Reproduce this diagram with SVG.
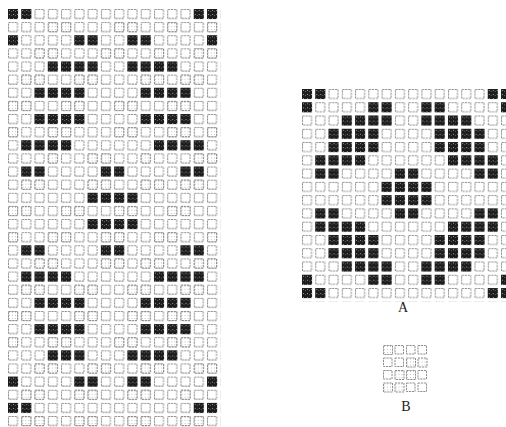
<svg xmlns="http://www.w3.org/2000/svg" xmlns:xlink="http://www.w3.org/1999/xlink" width="506" height="427" viewBox="0 0 506 427">
<style>
.o{fill:#fff;stroke:#8f8f8f;stroke-width:1;stroke-dasharray:2.2 0.8}
.lab{font-family:"Liberation Serif","DejaVu Serif",serif;font-size:14px;fill:#222;text-anchor:middle}
</style>
<defs>
<pattern id="dk" patternUnits="userSpaceOnUse" width="4" height="4">
<rect width="4" height="4" fill="#1c1c1c"/><rect x="1" y="1" width="1" height="1" fill="#9a9a9a"/><rect x="3" y="2" width="1" height="1" fill="#606060"/>
</pattern>
<pattern id="lt" patternUnits="userSpaceOnUse" width="3" height="3">
<rect width="3" height="3" fill="#fff"/><rect x="1" y="1" width="1" height="1" fill="#c4c4c4"/>
</pattern>
<pattern id="gL" patternUnits="userSpaceOnUse" x="8" y="9" width="13.27" height="13.13">
<rect x="0.5" y="0.5" width="9" height="9" class="o"/>
</pattern>
<pattern id="gA" patternUnits="userSpaceOnUse" x="302" y="89" width="13.27" height="13.27">
<rect x="0.5" y="0.5" width="9" height="9" class="o"/>
</pattern>
<rect id="k" width="10" height="10" fill="url(#dk)"/>
<rect id="l" x="0.5" y="0.5" width="9" height="9" fill="url(#lt)" stroke="#8f8f8f" stroke-width="1" stroke-dasharray="2.2 0.8"/>
<g id="p0"><use href="#k" x="0"/><use href="#k" x="13.27"/><use href="#k" x="185.78"/><use href="#k" x="199.05"/></g>
<g id="p1"><use href="#k" x="0"/><use href="#k" x="66.35"/><use href="#k" x="79.62"/><use href="#k" x="119.43"/><use href="#k" x="132.7"/><use href="#k" x="199.05"/></g>
<g id="p2"><use href="#k" x="39.81"/><use href="#k" x="53.08"/><use href="#k" x="66.35"/><use href="#k" x="79.62"/><use href="#k" x="119.43"/><use href="#k" x="132.7"/><use href="#k" x="145.97"/><use href="#k" x="159.24"/></g>
<g id="p2b"><use href="#k" x="39.81"/><use href="#k" x="53.08"/><use href="#k" x="66.35"/><use href="#k" x="119.43"/><use href="#k" x="132.7"/><use href="#k" x="145.97"/><use href="#k" x="159.24"/></g>
<g id="p3"><use href="#k" x="26.54"/><use href="#k" x="39.81"/><use href="#k" x="53.08"/><use href="#k" x="66.35"/><use href="#k" x="132.7"/><use href="#k" x="145.97"/><use href="#k" x="159.24"/><use href="#k" x="172.51"/></g>
<g id="p5"><use href="#k" x="13.27"/><use href="#k" x="26.54"/><use href="#k" x="39.81"/><use href="#k" x="53.08"/><use href="#k" x="145.97"/><use href="#k" x="159.24"/><use href="#k" x="172.51"/><use href="#k" x="185.78"/></g>
<g id="p6"><use href="#k" x="13.27"/><use href="#k" x="26.54"/><use href="#k" x="92.89"/><use href="#k" x="106.16"/><use href="#k" x="172.51"/><use href="#k" x="185.78"/></g>
<g id="p7"><use href="#k" x="79.62"/><use href="#k" x="92.89"/><use href="#k" x="106.16"/><use href="#k" x="119.43"/></g>
</defs>

<g id="grid-left">
<rect x="8" y="9" width="212.32" height="418" fill="url(#gL)"/>
<g id="left-light">
<g transform="translate(8,22.13)"><use href="#l" x="39.81"/><use href="#l" x="53.08"/><use href="#l" x="106.16"/><use href="#l" x="119.43"/><use href="#l" x="159.24"/><use href="#l" x="199.05"/></g>
<g transform="translate(8,48.39)"><use href="#l" x="26.54"/><use href="#l" x="39.81"/><use href="#l" x="92.89"/><use href="#l" x="106.16"/><use href="#l" x="145.97"/><use href="#l" x="185.78"/><use href="#l" x="199.05"/></g>
<g transform="translate(8,74.65)"><use href="#l" x="13.27"/><use href="#l" x="26.54"/><use href="#l" x="66.35"/><use href="#l" x="79.62"/><use href="#l" x="132.7"/><use href="#l" x="145.97"/><use href="#l" x="172.51"/><use href="#l" x="185.78"/></g>
<g transform="translate(8,100.91)"><use href="#l" x="0"/><use href="#l" x="13.27"/><use href="#l" x="53.08"/><use href="#l" x="66.35"/><use href="#l" x="106.16"/><use href="#l" x="119.43"/><use href="#l" x="159.24"/><use href="#l" x="172.51"/></g>
<g transform="translate(8,127.17)"><use href="#l" x="0"/><use href="#l" x="39.81"/><use href="#l" x="53.08"/><use href="#l" x="106.16"/><use href="#l" x="119.43"/><use href="#l" x="159.24"/><use href="#l" x="172.51"/><use href="#l" x="199.05"/></g>
<g transform="translate(8,153.43)"><use href="#l" x="39.81"/><use href="#l" x="79.62"/><use href="#l" x="92.89"/><use href="#l" x="132.7"/><use href="#l" x="185.78"/><use href="#l" x="199.05"/></g>
<g transform="translate(8,179.69)"><use href="#l" x="13.27"/><use href="#l" x="26.54"/><use href="#l" x="79.62"/><use href="#l" x="92.89"/><use href="#l" x="132.7"/><use href="#l" x="145.97"/><use href="#l" x="172.51"/><use href="#l" x="185.78"/></g>
<g transform="translate(8,205.95)"><use href="#l" x="0"/><use href="#l" x="13.27"/><use href="#l" x="53.08"/><use href="#l" x="66.35"/><use href="#l" x="106.16"/><use href="#l" x="119.43"/><use href="#l" x="159.24"/><use href="#l" x="172.51"/></g>
<g transform="translate(8,232.21)"><use href="#l" x="0"/><use href="#l" x="39.81"/><use href="#l" x="53.08"/><use href="#l" x="92.89"/><use href="#l" x="106.16"/><use href="#l" x="145.97"/><use href="#l" x="159.24"/><use href="#l" x="199.05"/></g>
<g transform="translate(8,258.47)"><use href="#l" x="26.54"/><use href="#l" x="39.81"/><use href="#l" x="92.89"/><use href="#l" x="106.16"/><use href="#l" x="132.7"/><use href="#l" x="145.97"/><use href="#l" x="185.78"/><use href="#l" x="199.05"/></g>
<g transform="translate(8,284.73)"><use href="#l" x="13.27"/><use href="#l" x="26.54"/><use href="#l" x="66.35"/><use href="#l" x="79.62"/><use href="#l" x="119.43"/><use href="#l" x="132.7"/><use href="#l" x="172.51"/><use href="#l" x="185.78"/></g>
<g transform="translate(8,310.99)"><use href="#l" x="0"/><use href="#l" x="13.27"/><use href="#l" x="66.35"/><use href="#l" x="79.62"/><use href="#l" x="119.43"/><use href="#l" x="132.7"/><use href="#l" x="159.24"/><use href="#l" x="172.51"/></g>
<g transform="translate(8,337.25)"><use href="#l" x="0"/><use href="#l" x="39.81"/><use href="#l" x="53.08"/><use href="#l" x="106.16"/><use href="#l" x="119.43"/><use href="#l" x="159.24"/><use href="#l" x="172.51"/></g>
<g transform="translate(8,363.51)"><use href="#l" x="26.54"/><use href="#l" x="39.81"/><use href="#l" x="79.62"/><use href="#l" x="92.89"/><use href="#l" x="132.7"/><use href="#l" x="145.97"/><use href="#l" x="185.78"/><use href="#l" x="199.05"/></g>
<g transform="translate(8,389.77)"><use href="#l" x="13.27"/><use href="#l" x="26.54"/><use href="#l" x="66.35"/><use href="#l" x="79.62"/><use href="#l" x="119.43"/><use href="#l" x="132.7"/><use href="#l" x="172.51"/></g>
<g transform="translate(8,416.03)"><use href="#l" x="13.27"/><use href="#l" x="26.54"/><use href="#l" x="66.35"/><use href="#l" x="79.62"/><use href="#l" x="119.43"/><use href="#l" x="132.7"/><use href="#l" x="172.51"/><use href="#l" x="185.78"/></g>
</g>
<g id="left-dark">
<use href="#p0" x="8" y="9"/>
<use href="#p1" x="8" y="35.26"/>
<use href="#p2" x="8" y="61.52"/>
<use href="#p3" x="8" y="87.78"/>
<use href="#p3" x="8" y="114.04"/>
<use href="#p5" x="8" y="140.3"/>
<use href="#p6" x="8" y="166.56"/>
<use href="#p7" x="8" y="192.82"/>
<use href="#p7" x="8" y="219.08"/>
<use href="#p6" x="8" y="245.34"/>
<use href="#p5" x="8" y="271.6"/>
<use href="#p3" x="8" y="297.86"/>
<use href="#p3" x="8" y="324.12"/>
<use href="#p2b" x="8" y="350.38"/>
<use href="#p1" x="8" y="376.64"/>
<use href="#p0" x="8" y="402.9"/>
</g>
</g>

<g id="grid-A">
<rect x="302" y="89" width="204" height="212.32" fill="url(#gA)"/>
<use href="#p0" x="302" y="89"/>
<use href="#p1" x="302" y="102.27"/>
<use href="#p2" x="302" y="115.54"/>
<use href="#p3" x="302" y="128.81"/>
<use href="#p3" x="302" y="142.08"/>
<use href="#p5" x="302" y="155.35"/>
<use href="#p6" x="302" y="168.62"/>
<use href="#p7" x="302" y="181.89"/>
<use href="#p7" x="302" y="195.16"/>
<use href="#p6" x="302" y="208.43"/>
<use href="#p5" x="302" y="221.7"/>
<use href="#p3" x="302" y="234.97"/>
<use href="#p3" x="302" y="248.24"/>
<use href="#p2" x="302" y="261.51"/>
<use href="#p1" x="302" y="274.78"/>
<use href="#p0" x="302" y="288.05"/>
<text class="lab" x="403" y="312">A</text>
</g>

<g id="grid-B">
<g transform="translate(383,345)"><use href="#l" x="0"/><rect x="12" y="0.5" width="8.5" height="8.5" class="o"/><rect x="23.5" y="0.5" width="8.5" height="8.5" class="o"/><rect x="35" y="0.5" width="8.5" height="8.5" class="o"/></g>
<g transform="translate(383,357.5)"><rect x="0.5" y="0.5" width="8.5" height="8.5" class="o"/><rect x="12" y="0.5" width="8.5" height="8.5" class="o"/><use href="#l" x="23"/><use href="#l" x="34.5"/></g>
<g transform="translate(383,370)"><rect x="0.5" y="0.5" width="8.5" height="8.5" class="o"/><use href="#l" x="11.5"/><use href="#l" x="23"/><rect x="35" y="0.5" width="8.5" height="8.5" class="o"/></g>
<g transform="translate(383,382.5)"><use href="#l" x="0"/><use href="#l" x="11.5"/><rect x="23.5" y="0.5" width="8.5" height="8.5" class="o"/><rect x="35" y="0.5" width="8.5" height="8.5" class="o"/></g>
<text class="lab" x="406" y="411">B</text>
</g>
</svg>
